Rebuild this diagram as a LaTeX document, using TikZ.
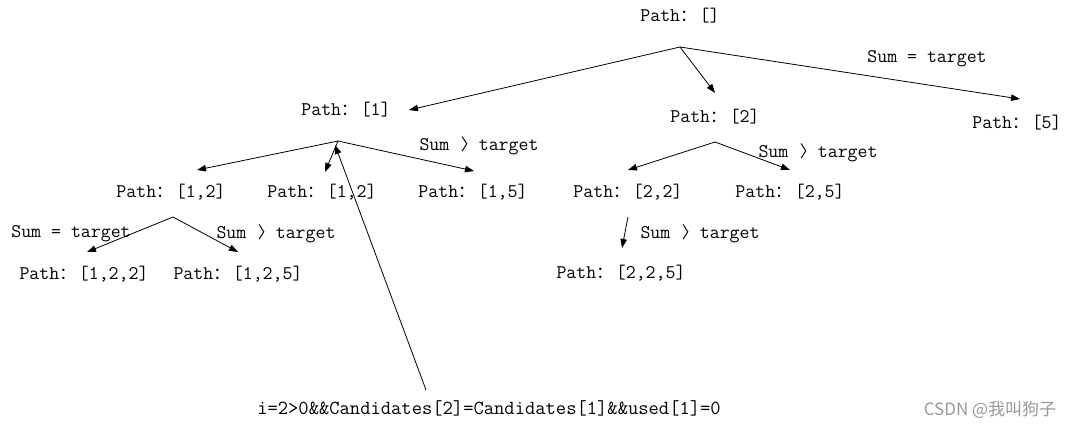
\documentclass[tikz,border=0pt]{standalone}
\usepackage{fontspec}
\newfontfamily\cjk{Noto Sans CJK SC}
\usetikzlibrary{arrows.meta}
\newcommand\fc{\makebox[19.6pt][l]{\cjk\fontsize{16.3pt}{18pt}\selectfont ：}}
\newcommand\mygt{\makebox[19.6pt][c]{\cjk\fontsize{16.3pt}{18pt}\selectfont 〉}}
\tikzset{
  lbl/.style={inner sep=0pt, font=\ttfamily\fontsize{19.3pt}{21pt}\selectfont},
  arr/.style={-{Triangle[length=9pt,width=6.5pt]}, line width=0.8pt, black},
}
\begin{document}
\begin{tikzpicture}[x=1pt,y=-1pt]
\useasboundingbox (0,0) rectangle (1075,428);
% nodes
\node[lbl] (p0) at (680,16) {Path\fc[]};
\node[lbl] (p1) at (346,110) {Path\fc[1]};
\node[lbl] (p2) at (715,117) {Path\fc[2]};
\node[lbl] (p5) at (1017,123) {Path\fc[5]};
\node[lbl] (s1) at (927,59) {Sum = target};
\node[lbl] (p12a) at (171,192) {Path\fc[1,2]};
\node[lbl] (p12b) at (322,192) {Path\fc[1,2]};
\node[lbl] (p15) at (473,192) {Path\fc[1,5]};
\node[lbl] (s2) at (479,146) {Sum \mygt target};
\node[lbl] (p22) at (628,192) {Path\fc[2,2]};
\node[lbl] (p25) at (790,192) {Path\fc[2,5]};
\node[lbl] (s3) at (818,153) {Sum \mygt target};
\node[lbl] (s4) at (71,234) {Sum = target};
\node[lbl] (s5) at (276,234) {Sum \mygt target};
\node[lbl] (p122) at (84,274) {Path\fc[1,2,2]};
\node[lbl] (p125) at (238,274) {Path\fc[1,2,5]};
\node[lbl] (s6) at (700,234) {Sum \mygt target};
\node[lbl] (p225) at (621,273) {Path\fc[2,2,5]};
\node[lbl, font=\ttfamily\fontsize{20pt}{22pt}\selectfont] (note) at (489,408) {i=2>0\&\&Candidates[2]=Candidates[1]\&\&used[1]=0};
\node[inner sep=0pt, text=black!40, font=\cjk\fontsize{17pt}{19pt}\selectfont] (wm) at (990,410) {CSDN @我叫狗子};
% coordinates
\coordinate (a0) at (680,47);
\coordinate (t1) at (409,110);
\coordinate (t2) at (715,93);
\coordinate (t5) at (1020,99);
\coordinate (a1) at (338,141);
\coordinate (t12a) at (197,170);
\coordinate (t12b) at (325,172);
\coordinate (t15) at (474,171);
\coordinate (nstart) at (426,390);
\coordinate (ntip) at (335,145);
\coordinate (a2) at (715,142);
\coordinate (t22) at (628,170);
\coordinate (t25) at (790,170);
\coordinate (a12) at (173,217);
\coordinate (t122) at (87,252);
\coordinate (t125) at (238,252);
\coordinate (a22) at (628,217);
\coordinate (t225) at (622,248);
% arrows
\draw[arr] (a0) -- (t1);
\draw[arr] (a0) -- (t2);
\draw[arr] (a0) -- (t5);
\draw[arr] (a1) -- (t12a);
\draw[arr] (a1) -- (t12b);
\draw[arr] (a1) -- (t15);
\draw[arr] (nstart) -- (ntip);
\draw[arr] (a2) -- (t22);
\draw[arr] (a2) -- (t25);
\draw[arr] (a12) -- (t122);
\draw[arr] (a12) -- (t125);
\draw[arr] (a22) -- (t225);
\end{tikzpicture}
\end{document}
